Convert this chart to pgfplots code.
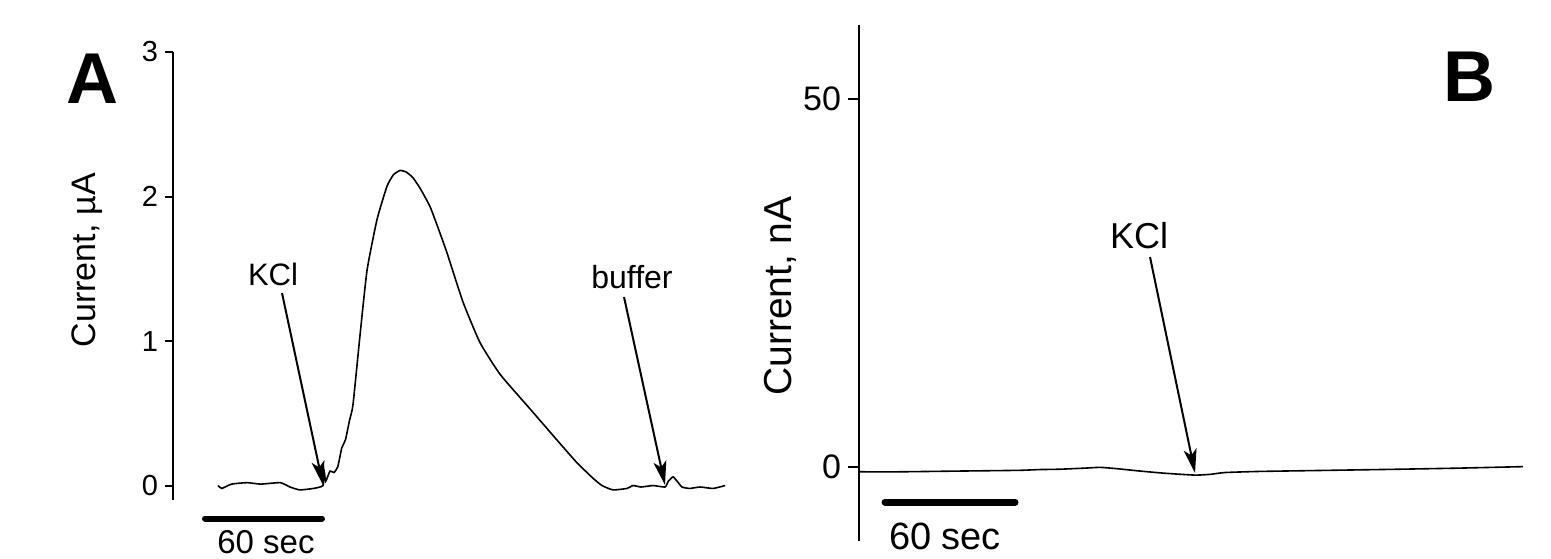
\documentclass[border=0pt]{standalone}
\usepackage{fontspec}
\setmainfont{Liberation Sans}
\usepackage{pgfplots}
\pgfplotsset{compat=1.18}
\usetikzlibrary{arrows.meta}

\begin{document}
\begin{tikzpicture}
\useasboundingbox (0,0) rectangle (775.5pt,279pt);

% ---------------- Panel A ----------------
\begin{axis}[
  at={(86.5pt,29pt)}, anchor=south west,
  scale only axis, width=277.9pt, height=224pt,
  xmin=0, xmax=285, ymin=-0.1, ymax=3,
  axis x line=none, axis y line=left,
  axis line style={-, line width=1pt},
  xtick=\empty, ytick={0,1,2,3},
  tick align=outside, major tick length=4pt,
  tick style={line width=1pt, black},
  yticklabel style={font=\fontsize{14.5}{17}\selectfont},
  /pgf/number format/assume math mode=true,
  clip=false,
]
\addplot[black, line width=0.8pt, smooth, tension=0.3] coordinates {
(23.1,0.00) (25,-0.02) (30,0.01) (38,0.02) (45,0.01) (55,0.02) (60,-0.01)
(65,-0.03) (72,-0.02) (76.9,0.00) (77.5,0.10) (78.3,0.03) (80.5,0.10)
(82.5,0.09) (84.5,0.13) (86.5,0.26) (87.2,0.28) (88.5,0.32) (90.5,0.45)
(92.3,0.56) (95.9,1.04) (99.5,1.49) (104.6,1.84) (109.7,2.07) (113,2.15)
(116.4,2.18) (119.5,2.17) (123.1,2.13) (127,2.05) (131.8,1.93) (136,1.78)
(140.5,1.61) (148.7,1.27) (157.4,0.99) (167.7,0.77) (183.1,0.53) (198.5,0.29)
(207,0.16) (215.4,0.05) (220,0.0) (225.6,-0.03) (232.8,-0.02) (235.9,0.00)
(240,-0.01) (246.2,0.00) (252.3,-0.01) (254,0.03) (256.4,0.06) (258.5,0.03)
(261,-0.01) (265,-0.02) (270.3,-0.01) (276.9,-0.02) (283.1,0.00)
};
% scale bar
\addplot[black, line width=3pt, line cap=round] coordinates {(16.4,-0.228) (76.4,-0.228)};
\end{axis}

% ---------------- Panel B ----------------
\begin{axis}[
  at={(429.5pt,8.7pt)}, anchor=south west,
  scale only axis, width=333.7pt, height=257.6pt,
  xmin=0, xmax=308, ymin=-10, ymax=60,
  axis x line=none, axis y line=left,
  axis line style={-, line width=1pt},
  xtick=\empty, ytick={0,50},
  tick align=outside, major tick length=5.5pt,
  tick style={line width=1pt, black},
  yticklabel style={font=\fontsize{17}{20}\selectfont},
  /pgf/number format/assume math mode=true,
  clip=false,
]
\addplot[black, line width=0.8pt, smooth, tension=0.3] coordinates {
(0.5,-0.65) (18.9,-0.65) (46.6,-0.55) (74.3,-0.45) (83,-0.35) (92.8,-0.3)
(104.3,-0.15) (111.2,-0.05) (118.1,-0.2) (129.7,-0.55) (141.2,-0.85)
(155,-1.1) (162,-1.0) (168.9,-0.75) (185,-0.6) (217.4,-0.45) (249.7,-0.3)
(277.3,-0.15) (306.4,0.05)
};
% scale bar
\addplot[black, line width=3.5pt, line cap=round] coordinates {(12,-4.76) (72,-4.76)};
\end{axis}

% ---------------- Labels and arrows ----------------
\node[font=\bfseries\fontsize{36}{40}\selectfont] at (46pt,239.5pt) {A};
\node[font=\bfseries\fontsize{36}{40}\selectfont] at (734.5pt,240.5pt) {B};

\node[rotate=90, font=\fontsize{17}{20}\selectfont] at (43.5pt,149pt) {Current, µA};
\node[rotate=90, font=\fontsize{19.5}{22}\selectfont] at (390pt,131pt) {Current, nA};

\node[font=\fontsize{15.5}{18}\selectfont] at (136.5pt,142pt) {KCl};
\draw[line width=1pt, -{Stealth[length=12pt,width=6.5pt,inset=3pt]}] (141pt,132.5pt) -- (161.5pt,36.5pt);

\node[font=\fontsize{16}{19}\selectfont] at (316pt,140.5pt) {buffer};
\draw[line width=1pt, -{Stealth[length=12pt,width=6.5pt,inset=3pt]}] (312pt,130.5pt) -- (332.5pt,36.5pt);

\node[font=\fontsize{18}{21}\selectfont] at (569.5pt,161pt) {KCl};
\draw[line width=1pt, -{Stealth[length=12pt,width=6.5pt,inset=3pt]}] (575pt,150.5pt) -- (597.5pt,42.5pt);

\node[anchor=base, font=\fontsize{16.5}{19}\selectfont, inner sep=0pt] at (133pt,2.2pt) {60 sec};
\node[anchor=base, font=\fontsize{19}{22}\selectfont, inner sep=0pt] at (472.5pt,4.5pt) {60 sec};
\end{tikzpicture}
\end{document}
